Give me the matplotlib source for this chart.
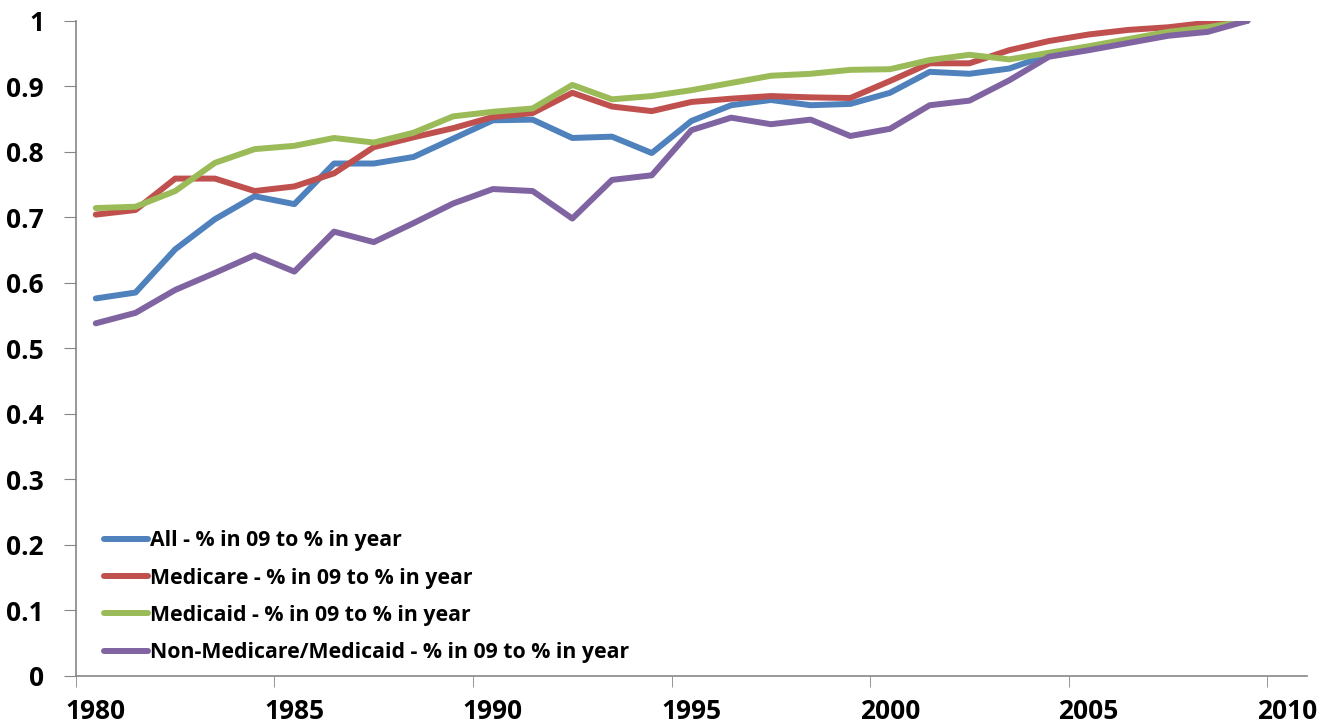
import numpy as np
import matplotlib
matplotlib.use("Agg")
import matplotlib.pyplot as plt

years = list(range(1980, 2010))

all_ratio = [0.576, 0.585, 0.651, 0.697, 0.732, 0.720, 0.782, 0.782, 0.792, 0.820,
             0.848, 0.849, 0.821, 0.823, 0.798, 0.847, 0.871, 0.879, 0.871, 0.873,
             0.890, 0.922, 0.919, 0.927, 0.948, 0.956, 0.969, 0.980, 0.988, 1.000]
medicare = [0.704, 0.711, 0.759, 0.759, 0.740, 0.747, 0.767, 0.807, 0.822, 0.836,
            0.853, 0.859, 0.890, 0.869, 0.862, 0.876, 0.881, 0.885, 0.883, 0.882,
            0.908, 0.935, 0.935, 0.955, 0.969, 0.979, 0.986, 0.990, 0.997, 1.000]
medicaid = [0.714, 0.716, 0.740, 0.783, 0.804, 0.809, 0.821, 0.814, 0.829, 0.854,
            0.861, 0.866, 0.902, 0.880, 0.885, 0.894, 0.905, 0.916, 0.919, 0.925,
            0.926, 0.940, 0.948, 0.941, 0.951, 0.961, 0.972, 0.983, 0.990, 1.000]
non_mm = [0.538, 0.554, 0.589, 0.615, 0.642, 0.617, 0.678, 0.662, 0.691, 0.721,
          0.743, 0.740, 0.698, 0.757, 0.764, 0.833, 0.852, 0.842, 0.849, 0.824,
          0.835, 0.871, 0.878, 0.909, 0.945, 0.955, 0.966, 0.977, 0.983, 1.000]

labels = ["All - % in 09 to % in year",
          "Medicare - % in 09 to % in year",
          "Medicaid - % in 09 to % in year",
          "Non-Medicare/Medicaid - % in 09 to % in year"]
colors = ["#4F81BD", "#C0504D", "#9BBB59", "#8064A2"]

plt.rcParams['font.family'] = ['Open Sans', 'DejaVu Sans']
plt.rcParams['font.weight'] = 'bold'

fig = plt.figure(figsize=(13.3, 7.25), dpi=100)
ax = fig.add_axes([0.0571, 0.068, 0.9256, 0.9034])

for series, lab, col in zip([all_ratio, medicare, medicaid, non_mm], labels, colors):
    ax.plot(years, series, color=col, lw=4.3, label=lab, solid_capstyle='round',
            solid_joinstyle='round')

ax.set_xlim(1979.5, 2010.5)
ax.set_ylim(0, 1)

# labels sit in the middle of a year slot, tick marks on the slot edges
ax.set_xticks(np.arange(1980, 2011, 5))
ax.set_xticklabels([str(y) for y in range(1980, 2011, 5)])
ax.set_xticks(np.arange(1979.5, 2010, 5), minor=True)
ax.tick_params(axis='x', which='major', length=0, pad=16, labelsize=19)
ax.tick_params(axis='x', which='minor', length=8, color='#868686', direction='out')

ax.set_yticks(np.arange(0, 1.01, 0.1))
ax.set_yticklabels(["0"] + [f"{v:.1f}" for v in np.arange(0.1, 0.95, 0.1)] + ["1"])
ax.tick_params(axis='y', length=9, color='#868686', pad=14, labelsize=19)

for s in ['top', 'right']:
    ax.spines[s].set_visible(False)
for s in ['left', 'bottom']:
    ax.spines[s].set_color('#868686')
    ax.spines[s].set_linewidth(1.2)

ax.legend(loc='lower left', bbox_to_anchor=(0.016, 0.006), frameon=False,
          fontsize=15.3, handlelength=2.07, handletextpad=0.1, labelspacing=0.77,
          borderaxespad=0)

fig.savefig("out.png", dpi=100)
